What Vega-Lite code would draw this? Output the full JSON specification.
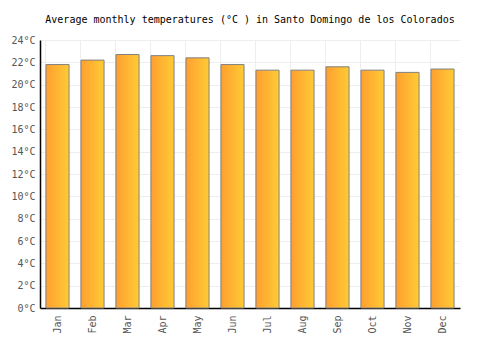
{
  "$schema": "https://vega.github.io/schema/vega-lite/v6.json",
  "autosize": {"type": "none"},
  "width": 420,
  "height": 268,
  "padding": {"left": 40, "top": 40, "right": 40, "bottom": 42},
  "background": "white",
  "title": {
    "text": "Average monthly temperatures (°C ) in Santo Domingo de los Colorados",
    "font": "DejaVu Sans Mono",
    "fontSize": 10,
    "fontWeight": "normal",
    "color": "#000000",
    "anchor": "middle",
    "offset": 10
  },
  "data": {
    "values": [
      {"month": "Jan", "temp": 21.8},
      {"month": "Feb", "temp": 22.2},
      {"month": "Mar", "temp": 22.7},
      {"month": "Apr", "temp": 22.6},
      {"month": "May", "temp": 22.4},
      {"month": "Jun", "temp": 21.8},
      {"month": "Jul", "temp": 21.3},
      {"month": "Aug", "temp": 21.3},
      {"month": "Sep", "temp": 21.6},
      {"month": "Oct", "temp": 21.3},
      {"month": "Nov", "temp": 21.1},
      {"month": "Dec", "temp": 21.4}
    ]
  },
  "mark": {
    "type": "bar",
    "stroke": "#808080",
    "strokeWidth": 1,
    "fill": {
      "gradient": "linear",
      "x1": 0, "x2": 1, "y1": 0, "y2": 0,
      "stops": [
        {"offset": 0, "color": "#ff9f30"},
        {"offset": 1, "color": "#ffcb35"}
      ]
    }
  },
  "encoding": {
    "x": {
      "field": "month",
      "type": "nominal",
      "sort": null,
      "scale": {"paddingInner": 0.34, "paddingOuter": 0.17},
      "axis": {
        "title": null,
        "labelAngle": -90,
        "labelAlign": "right",
        "labelBaseline": "middle",
        "labelFont": "DejaVu Sans Mono",
        "labelFontSize": 10,
        "labelColor": "#555555",
        "labelPadding": 7,
        "domainColor": "#000000",
        "domainWidth": 1.5,
        "ticks": false,
        "grid": true,
        "bandPosition": 0,
        "gridColor": "#eeeeee",
        "gridWidth": 1
      }
    },
    "y": {
      "field": "temp",
      "type": "quantitative",
      "scale": {"domain": [0, 24], "nice": false},
      "axis": {
        "title": null,
        "values": [0, 2, 4, 6, 8, 10, 12, 14, 16, 18, 20, 22, 24],
        "labelExpr": "datum.value + '°C'",
        "labelFont": "DejaVu Sans Mono",
        "labelFontSize": 10,
        "labelColor": "#555555",
        "labelPadding": 5,
        "domainColor": "#000000",
        "domainWidth": 1.5,
        "ticks": false,
        "gridColor": "#eeeeee",
        "gridWidth": 1
      }
    }
  },
  "config": {"view": {"stroke": null}}
}
